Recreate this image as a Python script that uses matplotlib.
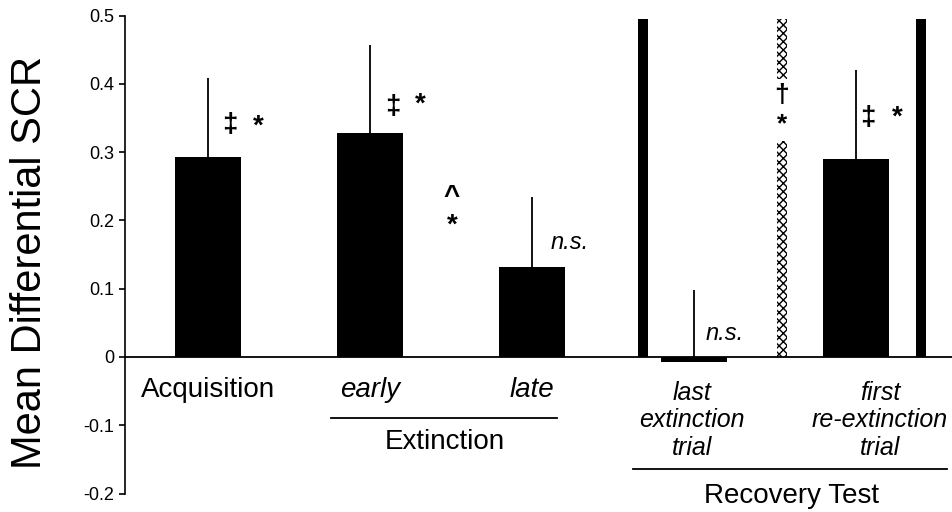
import matplotlib.pyplot as plt

plt.rcParams['font.family'] = ['Liberation Sans', 'DejaVu Sans']

# main bars (Acquisition, early, late, last extinction trial, first re-extinction trial)
bar_pos = [0, 1, 2, 3, 4]
bar_vals = [0.293, 0.328, 0.132, -0.007, 0.290]
bar_err = [0.115, 0.129, 0.102, 0.105, 0.130]

# thin separator bars around the recovery test
sep_pos = [2.685, 4.401]
sep_vals = [0.495, 0.495]
hatch_pos = [3.543]
hatch_vals = [0.495]

yticks = [-0.2, -0.1, 0, 0.1, 0.2, 0.3, 0.4, 0.5]
ytick_labels = ['-0.2', '-0.1', '0', '0.1', '0.2', '0.3', '0.4', '0.5']

fig = plt.figure(figsize=(9.53, 5.12), dpi=100)
ax = fig.add_axes([0.1312, 0.036, 0.8688, 0.9337])

ax.bar(bar_pos, bar_vals, width=0.407, color='black', zorder=2)
ax.errorbar(bar_pos, bar_vals, yerr=[[0] * len(bar_err), bar_err], fmt='none',
            ecolor='black', elinewidth=1.3, capsize=0, zorder=1)
ax.bar(sep_pos, sep_vals, width=0.062, color='black', zorder=2)
ax.bar(hatch_pos, hatch_vals, width=0.065, facecolor='white', edgecolor='black',
       hatch='xxxx', linewidth=0, zorder=2)

ax.axhline(0, color='black', lw=1.3, zorder=3)

ax.set_xlim(-0.512, 4.6)
ax.set_ylim(-0.2, 0.5)
ax.set_xticks([])
ax.set_yticks(yticks)
ax.set_yticklabels(ytick_labels, fontsize=13)
ax.tick_params(axis='y', direction='out', length=4, width=1.2, pad=4)
for s in ['top', 'right', 'bottom']:
    ax.spines[s].set_visible(False)
ax.spines['left'].set_linewidth(1.2)

fig.text(0.031, 0.488, 'Mean Differential SCR', rotation=90, fontsize=30,
         ha='center', va='center')

# category labels
ax.text(0, -0.048, 'Acquisition', fontsize=20, ha='center', va='center')
ax.text(1, -0.048, 'early', fontsize=20, style='italic', ha='center', va='center')
ax.text(2, -0.048, 'late', fontsize=20, style='italic', ha='center', va='center')
ax.text(2.99, -0.093, 'last\nextinction\ntrial', fontsize=18, style='italic',
        ha='center', va='center', linespacing=1.17)
ax.text(4.15, -0.093, 'first\nre-extinction\ntrial', fontsize=18, style='italic',
        ha='center', va='center', linespacing=1.17)

ax.plot([0.759, 2.154], [-0.089, -0.089], color='black', lw=1.3, clip_on=False)
ax.text(1.463, -0.124, 'Extinction', fontsize=20, ha='center', va='center')
ax.plot([2.623, 4.562], [-0.164, -0.164], color='black', lw=1.3, clip_on=False)
ax.text(3.605, -0.203, 'Recovery Test', fontsize=20, ha='center', va='center')

# significance marks
ax.text(0.136, 0.34, '‡', fontsize=20, fontweight='bold', ha='center', va='center')
ax.text(0.31, 0.337, '*', fontsize=20, fontweight='bold', ha='center', va='center')
ax.text(1.142, 0.366, '‡', fontsize=20, fontweight='bold', ha='center', va='center')
ax.text(1.309, 0.369, '*', fontsize=20, fontweight='bold', ha='center', va='center')
ax.text(1.506, 0.234, '^', fontsize=20, fontweight='bold', ha='center', va='center')
ax.text(1.506, 0.193, '*', fontsize=20, fontweight='bold', ha='center', va='center')
ax.text(2.235, 0.168, 'n.s.', fontsize=17, style='italic', ha='center', va='center')
ax.text(3.19, 0.035, 'n.s.', fontsize=17, style='italic', ha='center', va='center')
ax.text(4.074, 0.35, '‡', fontsize=20, fontweight='bold', ha='center', va='center')
ax.text(4.253, 0.351, '*', fontsize=20, fontweight='bold', ha='center', va='center')
ax.text(3.543, 0.362, '†\n*', fontsize=19, fontweight='bold', ha='center', va='center',
        linespacing=1.3, zorder=4, bbox=dict(facecolor='white', edgecolor='none', pad=3))

plt.savefig('out.png', dpi=100)
